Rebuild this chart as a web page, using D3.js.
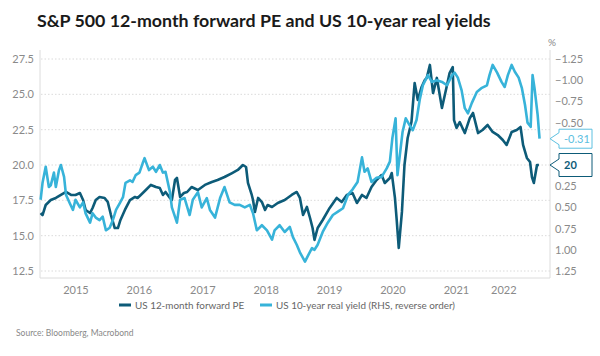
<!DOCTYPE html>
<html><head><meta charset="utf-8">
<script src="https://cdn.jsdelivr.net/npm/d3@7"></script>
<style>
html,body{margin:0;padding:0;background:#fff;}
svg{display:block;}
text{font-family:Lato,"Open Sans",sans-serif;}
</style></head>
<body><svg id="chart" width="600" height="356"></svg>
<script>
// ---------- data (decimal year, value) ----------
const peSeries = [
[2014.45,16.6],[2014.48,16.46],[2014.53,17.17],[2014.61,17.52],[2014.69,17.67],[2014.77,17.88],[2014.85,18.09],[2014.93,17.88],[2015.00,17.88],[2015.07,18.02],[2015.12,17.52],[2015.16,16.82],[2015.23,16.6],[2015.27,16.96],[2015.32,17.52],[2015.38,17.74],[2015.46,17.67],[2015.51,17.38],[2015.56,16.46],[2015.62,15.54],[2015.67,15.54],[2015.71,16.11],[2015.78,16.82],[2015.86,17.52],[2015.94,17.74],[2015.98,17.67],[2016.03,17.88],[2016.11,18.23],[2016.19,18.59],[2016.27,18.44],[2016.33,18.37],[2016.38,17.88],[2016.42,18.09],[2016.49,17.67],[2016.52,17.52],[2016.57,18.94],[2016.60,19.08],[2016.65,17.74],[2016.71,18.02],[2016.76,18.09],[2016.83,18.44],[2016.93,18.23],[2017.04,18.59],[2017.15,18.8],[2017.24,18.94],[2017.35,19.15],[2017.47,19.43],[2017.56,19.65],[2017.64,20.0],[2017.69,19.86],[2017.72,18.73],[2017.78,17.88],[2017.80,17.52],[2017.83,16.68],[2017.88,17.67],[2017.94,17.38],[2017.99,16.82],[2018.03,17.17],[2018.10,17.03],[2018.19,17.31],[2018.30,17.52],[2018.41,17.88],[2018.49,18.09],[2018.54,17.67],[2018.59,16.46],[2018.65,17.03],[2018.70,16.25],[2018.74,15.54],[2018.77,14.7],[2018.82,15.54],[2018.90,16.11],[2019.01,16.96],[2019.12,17.67],[2019.20,17.38],[2019.28,17.88],[2019.37,18.02],[2019.44,17.31],[2019.52,17.88],[2019.59,17.67],[2019.67,18.44],[2019.75,18.94],[2019.83,19.29],[2019.88,18.73],[2019.96,19.08],[2019.99,19.43],[2020.04,17.67],[2020.07,15.97],[2020.10,14.13],[2020.15,16.68],[2020.19,20.0],[2020.24,21.91],[2020.30,23.04],[2020.35,25.8],[2020.40,24.6],[2020.46,25.52],[2020.51,26.01],[2020.54,26.16],[2020.59,27.08],[2020.64,25.09],[2020.70,26.16],[2020.78,24.03],[2020.86,25.66],[2020.90,26.51],[2020.95,26.93],[2020.97,23.18],[2021.01,22.62],[2021.06,23.04],[2021.14,22.26],[2021.22,23.33],[2021.27,23.68],[2021.35,22.26],[2021.42,22.48],[2021.50,22.83],[2021.58,22.34],[2021.66,22.12],[2021.74,21.77],[2021.80,21.42],[2021.88,22.34],[2021.96,22.48],[2022.02,22.69],[2022.06,21.42],[2022.12,20.5],[2022.17,20.21],[2022.20,19.15],[2022.23,18.73],[2022.28,20.0],[2022.31,20.0]
];
const rySeries = [
[2014.45,0.41],[2014.48,0.21],[2014.53,0.02],[2014.58,0.26],[2014.61,0.24],[2014.66,0.09],[2014.69,0.26],[2014.74,0.06],[2014.77,0.00],[2014.82,0.14],[2014.85,0.35],[2014.91,0.45],[2014.96,0.53],[2015.00,0.41],[2015.07,0.50],[2015.12,0.44],[2015.16,0.57],[2015.23,0.68],[2015.27,0.57],[2015.32,0.62],[2015.38,0.65],[2015.43,0.61],[2015.48,0.77],[2015.54,0.74],[2015.59,0.65],[2015.64,0.53],[2015.70,0.45],[2015.75,0.38],[2015.79,0.21],[2015.86,0.18],[2015.90,0.20],[2015.95,0.12],[2016.01,0.09],[2016.06,-0.02],[2016.09,-0.08],[2016.16,0.06],[2016.22,0.02],[2016.27,0.08],[2016.33,0.00],[2016.38,0.09],[2016.42,0.08],[2016.49,0.32],[2016.52,0.50],[2016.60,0.68],[2016.65,0.41],[2016.72,0.39],[2016.80,0.59],[2016.85,0.41],[2016.93,0.32],[2016.99,0.50],[2017.07,0.39],[2017.12,0.53],[2017.20,0.62],[2017.28,0.39],[2017.35,0.26],[2017.43,0.44],[2017.51,0.47],[2017.59,0.47],[2017.67,0.50],[2017.75,0.47],[2017.80,0.57],[2017.86,0.77],[2017.94,0.71],[2018.02,0.77],[2018.10,0.88],[2018.14,0.77],[2018.22,0.71],[2018.30,0.79],[2018.38,0.73],[2018.43,0.85],[2018.49,0.94],[2018.54,1.03],[2018.62,1.14],[2018.66,1.08],[2018.73,0.98],[2018.77,1.00],[2018.82,0.94],[2018.90,0.79],[2018.98,0.68],[2019.06,0.59],[2019.14,0.55],[2019.22,0.51],[2019.30,0.35],[2019.37,0.29],[2019.45,0.20],[2019.52,-0.09],[2019.56,0.08],[2019.61,0.04],[2019.67,0.20],[2019.75,0.15],[2019.83,0.14],[2019.91,0.04],[2019.96,-0.04],[2020.00,-0.32],[2020.05,-0.55],[2020.08,0.12],[2020.16,-0.39],[2020.21,-0.55],[2020.27,-0.47],[2020.32,-0.41],[2020.38,-0.53],[2020.43,-0.77],[2020.48,-0.94],[2020.56,-1.06],[2020.62,-0.98],[2020.70,-1.00],[2020.78,-0.98],[2020.86,-0.94],[2020.94,-1.06],[2020.98,-1.09],[2021.03,-1.03],[2021.09,-0.88],[2021.14,-0.67],[2021.19,-0.61],[2021.25,-0.73],[2021.33,-0.86],[2021.41,-0.91],[2021.49,-0.94],[2021.53,-1.06],[2021.58,-1.18],[2021.65,-1.09],[2021.72,-0.98],[2021.77,-0.92],[2021.82,-1.06],[2021.88,-1.18],[2021.93,-1.10],[2021.99,-1.03],[2022.04,-0.91],[2022.09,-0.71],[2022.13,-0.50],[2022.18,-0.45],[2022.21,-1.06],[2022.24,-0.91],[2022.29,-0.59],[2022.32,-0.31]
];
const yearTicks = [2015,2016,2017,2018,2019,2020,2021,2022];
const leftTicks = [12.5,15.0,17.5,20.0,22.5,25.0,27.5];
const rightTicks = [-1.25,-1.00,-0.75,-0.50,0.25,0.50,0.75,1.00,1.25];
const seriesNames = ["US 12-month forward PE","US 10-year real yield (RHS, reverse order)"];
const titleText = "S&P 500 12-month forward PE and US 10-year real yields";
const sourceText = "Source: Bloomberg, Macrobond";
const peLabel = "20", ryLabel = "-0.31";

// ---------- helpers ----------
function dy(t){const y=Math.floor(t);const s=new Date(y,0,1),e=new Date(y+1,0,1);return new Date(+s+(t-y)*(e-s));}
const DARK="#0d5b78", LIGHT="#37b3d9", GRID="#d0d0d0", AXIS="#dcdcdc", TICK="#8a8a8a";

const svg=d3.select("#chart");
const L=40,R=550,T=50,B=278;
const x=d3.scaleTime().domain([dy(2014.44),dy(2022.485)]).range([L,R]);
const yL=d3.scaleLinear().domain([12.5,27.5]).range([271,59]);
const yR=d3.scaleLinear().domain([-1.25,1.25]).range([59,271]);

// title
const title=svg.append("text").attr("x",37).attr("y",27).attr("font-weight",700)
  .attr("fill","#1a1a1a").attr("font-size",20).text(titleText);
const tw=title.node().getComputedTextLength();
title.attr("font-size",20*454/tw);

// gridlines
svg.append("g").selectAll("line").data(leftTicks).join("line")
  .attr("x1",L+1).attr("x2",R).attr("y1",d=>yL(d)).attr("y2",d=>yL(d))
  .attr("stroke",GRID).attr("stroke-dasharray","1.5,2").attr("stroke-width",0.8);

// axis frame lines
svg.append("line").attr("x1",L).attr("x2",L).attr("y1",T).attr("y2",B).attr("stroke",AXIS);
svg.append("line").attr("x1",R).attr("x2",R).attr("y1",T).attr("y2",B).attr("stroke",AXIS);
svg.append("line").attr("x1",L).attr("x2",R).attr("y1",B).attr("y2",B).attr("stroke",AXIS);

// left axis
const gl=svg.append("g").attr("transform",`translate(${L},0)`)
  .call(d3.axisLeft(yL).tickValues(leftTicks).tickFormat(d3.format(".1f")).tickSize(0).tickPadding(6));
gl.select(".domain").remove();
gl.selectAll("text").attr("fill",TICK).attr("font-size",11).attr("font-family","Lato");

// right axis
const gr=svg.append("g").attr("transform",`translate(${R},0)`)
  .call(d3.axisRight(yR).tickValues(rightTicks).tickFormat(d3.format(".2f")).tickSize(0).tickPadding(5));
gr.select(".domain").remove();
gr.selectAll("text").attr("fill",TICK).attr("font-size",11).attr("font-family","Lato");
svg.append("text").attr("x",R-2).attr("y",46).attr("fill",TICK).attr("font-size",10).text("%");

// x axis
const gx=svg.append("g").attr("transform",`translate(0,${B})`)
  .call(d3.axisBottom(x).tickValues(yearTicks.map(y=>new Date(y,0,1))).tickFormat(d3.timeFormat("%Y")).tickSize(0).tickPadding(8));
gx.select(".domain").remove();
gx.selectAll("text").attr("fill",TICK).attr("font-size",11).attr("font-family","Lato")
  .attr("dx",(d,i)=>i===yearTicks.length-1?-16:0);

// lines
const linePE=d3.line().x(d=>x(dy(d[0]))).y(d=>yL(d[1]));
const lineRY=d3.line().x(d=>x(dy(d[0]))).y(d=>yR(d[1]));
svg.append("path").datum(peSeries).attr("d",linePE).attr("fill","none").attr("stroke",DARK)
  .attr("stroke-width",2.6).attr("stroke-linejoin","round");
svg.append("path").datum(rySeries).attr("d",lineRY).attr("fill","none").attr("stroke",LIGHT)
  .attr("stroke-width",2.6).attr("stroke-linejoin","round");

// end labels
function endBox(yTip,color,txt,h,bold){
  const bx=559,bw=33,top=yTip-h/2,bot=yTip+h/2;
  const pts=[[R,yTip],[bx,yTip-6],[bx,top],[bx+bw,top],[bx+bw,bot],[bx,bot],[bx,yTip+6]];
  svg.append("polygon").attr("points",pts.map(p=>p.join(",")).join(" "))
    .attr("fill","#fff").attr("stroke",color).attr("stroke-width",1);
  svg.append("text").attr("x",bx+5).attr("y",yTip+4).attr("fill",color)
    .attr("font-size",11).attr("font-weight",bold?700:400).text(txt);
}
const lastRY=rySeries[rySeries.length-1][1], lastPE=peSeries[peSeries.length-1][1];
endBox(yR(lastRY),"#5cc0e0",ryLabel,19,false);
endBox(yL(lastPE),"#0d5b78",peLabel,23,true);

// legend
const lg=svg.append("g");
lg.append("rect").attr("x",119).attr("y",303.5).attr("width",12).attr("height",3).attr("fill",DARK);
lg.append("text").attr("x",135).attr("y",309).attr("fill","#666").attr("font-size",9.9).text(seriesNames[0]);
lg.append("rect").attr("x",260).attr("y",303.5).attr("width",12).attr("height",3).attr("fill",LIGHT);
lg.append("text").attr("x",276).attr("y",309).attr("fill","#666").attr("font-size",9.9).text(seriesNames[1]);

// source
svg.append("text").attr("x",16).attr("y",336).attr("fill","#888").attr("font-size",8.5).text(sourceText);
</script></body></html>
